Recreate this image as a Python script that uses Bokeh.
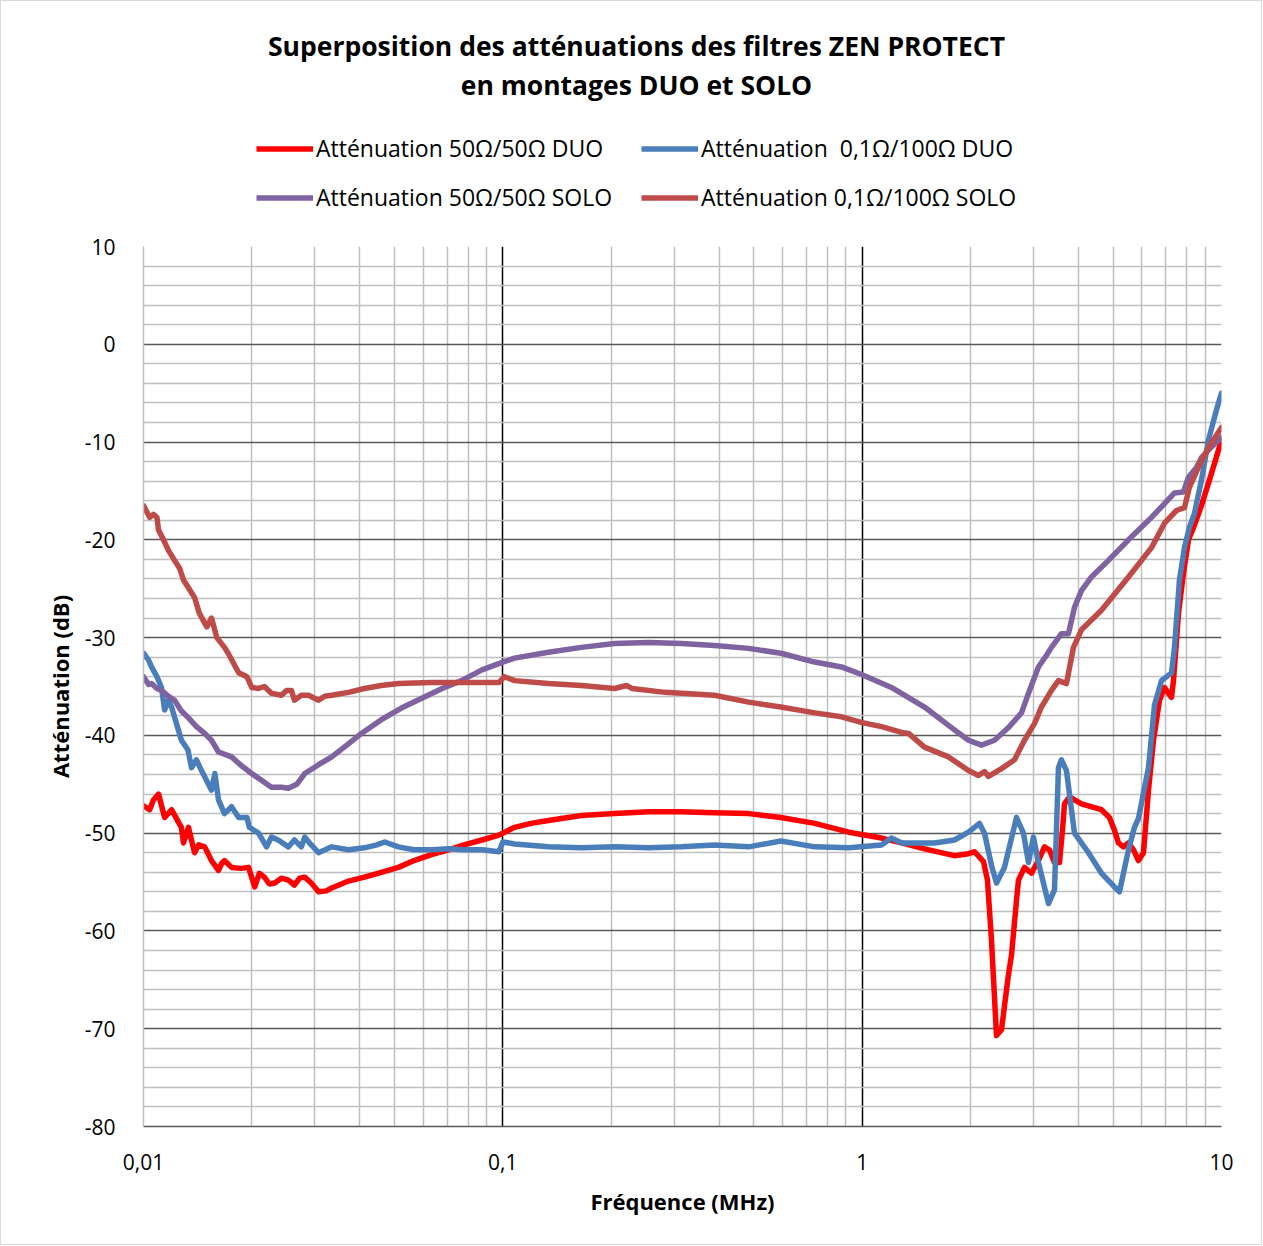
from bokeh.plotting import figure
from bokeh.layouts import column
from bokeh.models import FixedTicker, Legend, LegendItem, Range1d, Label
from bokeh.embed import file_html
from bokeh.resources import INLINE

# ---------------- data (frequency in MHz, attenuation in dB) ----------------
freq_duo_50 = [0.0100, 0.01040, 0.01066, 0.01101, 0.01145, 0.01197, 0.01252, 0.01275, 0.01292, 0.01334,
               0.01387, 0.01423, 0.0148, 0.01546, 0.01617, 0.01650, 0.0168, 0.01758, 0.01874, 0.0196,
               0.0204, 0.0210, 0.0217, 0.0224, 0.0232, 0.0242, 0.0253, 0.0263, 0.0272, 0.0281,
               0.0293, 0.0307, 0.0323, 0.0334, 0.0372, 0.0412, 0.0459, 0.0512, 0.0566, 0.0633,
               0.0706, 0.0780, 0.0875, 0.0975, 0.1078, 0.1197, 0.1339, 0.1654, 0.2045, 0.255,
               0.314, 0.388, 0.483, 0.594, 0.738, 0.918, 1.132, 1.287, 1.491, 1.806,
               1.976, 2.053, 2.176, 2.232, 2.290, 2.365, 2.442, 2.553, 2.603, 2.688,
               2.723, 2.829, 2.959, 3.094, 3.216, 3.32, 3.429, 3.541, 3.609, 3.656,
               3.775, 4.077, 4.634, 4.877, 5.036, 5.167, 5.336, 5.510, 5.689, 5.874,
               6.066, 6.264, 6.468, 6.722, 6.940, 7.120, 7.259, 7.352, 7.494, 7.590,
               7.837, 8.092, 8.409, 8.795, 9.378, 10.0]
att_duo_50 = [-47.2, -47.6, -46.6, -46.0, -48.4, -47.6, -48.9, -49.4, -51.0, -49.4,
              -52.0, -51.2, -51.4, -52.8, -53.8, -53.1, -52.8, -53.5, -53.6, -53.5,
              -55.5, -54.1, -54.5, -55.2, -55.1, -54.6, -54.8, -55.3, -54.6, -54.5,
              -55.1, -56.0, -55.9, -55.6, -54.9, -54.5, -54.0, -53.5, -52.8, -52.2,
              -51.7, -51.2, -50.7, -50.2, -49.4, -49.0, -48.7, -48.2, -48.0, -47.8,
              -47.8, -47.9, -48.0, -48.4, -49.0, -49.9, -50.5, -51.0, -51.6, -52.3,
              -52.1, -51.9, -52.9, -54.8, -60.9, -70.7, -70.1, -64.5, -62.5, -56.9,
              -54.8, -53.5, -54.1, -52.8, -51.4, -51.7, -53.0, -53.0, -49.7, -47.0,
              -46.3, -47.0, -47.6, -48.4, -49.7, -51.0, -51.4, -51.0, -51.7, -52.8,
              -52.0, -45.6, -40.5, -36.4, -35.1, -35.7, -36.1, -34.4, -30.3, -27.5,
              -23.4, -20.0, -18.5, -16.5, -13.2, -9.8]

freq_duo_01 = [0.0100, 0.01033, 0.01053, 0.0109, 0.01122, 0.01145, 0.01174, 0.01197, 0.0124, 0.01275,
               0.0133, 0.0136, 0.01404, 0.0145, 0.01546, 0.0158, 0.01617, 0.0168, 0.01758, 0.0184,
               0.0194, 0.0197, 0.0209, 0.0220, 0.0227, 0.0237, 0.0253, 0.0263, 0.0275, 0.0281,
               0.0293, 0.0307, 0.0334, 0.0372, 0.0412, 0.0446, 0.0469, 0.0512, 0.0566, 0.0633,
               0.0706, 0.0780, 0.0875, 0.0975, 0.1, 0.1078, 0.1339, 0.1654, 0.2045, 0.255,
               0.314, 0.388, 0.483, 0.594, 0.738, 0.918, 1.132, 1.206, 1.287, 1.590,
               1.806, 1.976, 2.121, 2.190, 2.290, 2.365, 2.489, 2.688, 2.811, 2.903,
               2.997, 3.094, 3.300, 3.429, 3.518, 3.586, 3.703, 3.898, 4.264, 4.634,
               5.036, 5.200, 5.510, 5.726, 5.874, 6.264, 6.510, 6.808, 7.259, 7.399,
               7.638, 7.887, 8.144, 8.409, 8.795, 9.198, 9.683, 10.0]
att_duo_01 = [-31.6, -32.3, -33.0, -34.0, -35.1, -37.4, -36.4, -37.1, -39.0, -40.5,
              -41.5, -43.3, -42.5, -43.6, -45.6, -43.9, -46.6, -48.0, -47.3, -48.4,
              -48.4, -49.4, -50.0, -51.4, -50.4, -50.7, -51.4, -50.7, -51.4, -50.4,
              -51.2, -52.0, -51.4, -51.7, -51.5, -51.2, -50.9, -51.4, -51.7, -51.7,
              -51.6, -51.7, -51.7, -51.9, -50.9, -51.1, -51.4, -51.5, -51.4, -51.5,
              -51.4, -51.2, -51.4, -50.8, -51.4, -51.5, -51.2, -50.5, -51.0, -51.0,
              -50.7, -49.9, -49.0, -50.0, -53.3, -55.1, -53.5, -48.4, -50.0, -53.0,
              -50.4, -53.0, -57.2, -55.8, -43.3, -42.5, -43.6, -50.0, -52.0, -54.1,
              -55.5, -56.0, -51.7, -49.4, -48.5, -43.3, -36.9, -34.4, -33.6, -31.0,
              -24.1, -20.8, -18.7, -17.3, -13.9, -9.8, -6.7, -5.0]

freq_solo_50 = [0.0100, 0.01033, 0.01053, 0.0109, 0.01122, 0.01174, 0.0122, 0.01275, 0.01334, 0.01404,
                0.0148, 0.01546, 0.01617, 0.01758, 0.01874, 0.0200, 0.0213, 0.0227, 0.0242, 0.0253,
                0.0267, 0.0281, 0.0307, 0.0334, 0.0368, 0.0404, 0.0459, 0.0522, 0.0595, 0.0678,
                0.0767, 0.0875, 0.1, 0.1078, 0.1339, 0.1654, 0.2045, 0.255, 0.314, 0.388,
                0.483, 0.594, 0.738, 0.876, 1.0, 1.206, 1.491, 1.772, 1.976, 2.148,
                2.335, 2.553, 2.775, 2.903, 3.094, 3.258, 3.364, 3.586, 3.751, 3.898,
                4.077, 4.347, 4.846, 5.510, 6.386, 6.940, 7.399, 7.837, 8.092, 8.52,
                8.795, 9.378, 10.0]
att_solo_50 = [-34.0, -34.8, -34.7, -35.2, -35.4, -36.0, -36.4, -37.5, -38.2, -39.1,
               -39.8, -40.5, -41.7, -42.2, -43.1, -43.9, -44.6, -45.3, -45.3, -45.4,
               -45.0, -43.9, -43.0, -42.2, -41.0, -39.8, -38.4, -37.2, -36.2, -35.2,
               -34.4, -33.3, -32.5, -32.1, -31.5, -31.0, -30.6, -30.5, -30.6, -30.8,
               -31.1, -31.6, -32.5, -33.0, -33.8, -35.1, -37.1, -39.2, -40.5, -41.0,
               -40.5, -39.2, -37.7, -35.7, -33.0, -31.8, -31.0, -29.6, -29.6, -26.9,
               -25.2, -23.8, -22.1, -20.0, -17.7, -16.3, -15.2, -15.1, -13.6, -12.6,
               -11.6, -10.5, -9.5]

freq_solo_01 = [0.0100, 0.01040, 0.01066, 0.0109, 0.01101, 0.01137, 0.01174, 0.0122, 0.0126, 0.01292,
                0.01387, 0.0143, 0.0150, 0.01546, 0.0160, 0.0168, 0.0172, 0.0184, 0.0194, 0.0200,
                0.0209, 0.0217, 0.0227, 0.0242, 0.0250, 0.0258, 0.0263, 0.0275, 0.0288, 0.0307,
                0.0319, 0.0334, 0.0372, 0.0412, 0.0459, 0.0512, 0.0633, 0.0780, 0.0975, 0.101,
                0.1078, 0.1339, 0.1654, 0.2045, 0.2213, 0.2286, 0.2826, 0.388, 0.483, 0.594,
                0.738, 0.876, 1.0, 1.132, 1.287, 1.346, 1.491, 1.739, 1.976, 2.107,
                2.190, 2.246, 2.442, 2.654, 2.829, 3.016, 3.155, 3.364, 3.518, 3.703,
                3.873, 4.077, 4.634, 5.510, 6.386, 6.940, 7.494, 7.887, 8.144, 8.795,
                9.378, 10.0]
att_solo_01 = [-16.5, -17.7, -17.4, -17.7, -19.0, -20.0, -21.1, -22.1, -22.9, -24.1,
               -25.9, -27.5, -28.9, -28.0, -30.0, -31.0, -31.6, -33.6, -34.0, -35.1,
               -35.2, -35.0, -35.7, -35.9, -35.4, -35.4, -36.4, -35.9, -35.9, -36.4,
               -36.0, -35.9, -35.6, -35.2, -34.9, -34.7, -34.6, -34.6, -34.6, -34.0,
               -34.4, -34.7, -34.9, -35.2, -34.9, -35.2, -35.6, -35.9, -36.6, -37.1,
               -37.7, -38.1, -38.7, -39.1, -39.7, -39.8, -41.2, -42.2, -43.6, -44.1,
               -43.7, -44.2, -43.4, -42.5, -40.5, -38.8, -37.1, -35.4, -34.4, -34.7,
               -31.0, -29.2, -27.2, -23.8, -20.8, -18.3, -17.0, -16.7, -14.6, -11.9,
               -10.1, -8.5]

labels = ["Atténuation 50Ω/50Ω DUO", "Atténuation  0,1Ω/100Ω DUO",
          "Atténuation 50Ω/50Ω SOLO", "Atténuation 0,1Ω/100Ω SOLO"]
colors = ["#ff0000", "#4a7ebb", "#7f62a0", "#be4b48"]
title_lines = ["Superposition des atténuations des filtres ZEN PROTECT", "en montages DUO et SOLO"]

x_ticks = [0.01, 0.1, 1, 10]
x_tick_labels = {0.01: "0,01", 0.1: "0,1", 1: "1", 10: "10"}
x_minor = [m * d for d in (0.01, 0.1, 1) for m in range(2, 10)]
y_ticks = list(range(-80, 11, 10))
y_tick_labels = {v: str(v) for v in y_ticks}
y_minor = [v for v in range(-80, 11, 2) if v % 10 != 0]

FONT = "Open Sans"
LEFT, FW, RIGHT = 142, 1078, 40
HEAD_H = 220

# ---------------- header: title + legend (same frame columns as the chart) ----------------
head = figure(frame_width=FW, frame_height=HEAD_H,
              min_border_left=LEFT, min_border_right=RIGHT, min_border_top=0, min_border_bottom=0,
              x_range=Range1d(LEFT, LEFT + FW), y_range=Range1d(HEAD_H, 0),
              x_axis_location=None, y_axis_location=None,
              output_backend="svg", toolbar_location=None, outline_line_color=None,
              background_fill_color="white", border_fill_color="white")
head.xgrid.visible = False
head.ygrid.visible = False
head.title.visible = False

for i, t in enumerate(title_lines):
    head.add_layout(Label(x=635, y=44 + 39 * i, text=t, text_align="center", text_baseline="middle",
                          text_font=FONT, text_font_style="bold", text_font_size="26.5px",
                          text_color="#000000"))

# legend swatches (single point each, only used for the legend glyphs)
swatches = [head.line([0], [0], line_color=c, line_width=5.5) for c in colors]

def make_legend(idx, x):
    return Legend(items=[LegendItem(label=labels[i], renderers=[swatches[i]]) for i in idx],
                  location=(x, 8), orientation="vertical",
                  glyph_width=57, glyph_height=31, label_height=31, spacing=17,
                  label_standoff=3, padding=0, margin=0,
                  border_line_color=None, background_fill_alpha=0,
                  label_text_font=FONT, label_text_font_size="23px", label_text_color="#000000")

# positions are relative to the header frame, whose left edge is at LEFT
head.add_layout(make_legend([0, 2], 255 - LEFT), "center")
head.add_layout(make_legend([1, 3], 640 - LEFT), "center")

# ---------------- main chart ----------------
p = figure(x_axis_type="log", x_range=Range1d(0.01, 10), y_range=Range1d(-80, 10),
           frame_width=FW, frame_height=880,
           min_border_left=LEFT, min_border_right=RIGHT, min_border_top=25, min_border_bottom=118,
           output_backend="svg", toolbar_location=None, background_fill_color="white",
           border_fill_color="white", outline_line_color=None)
p.title.visible = False

# grids
p.xgrid.ticker = FixedTicker(ticks=[0.1, 1, 10], minor_ticks=x_minor)
p.xgrid.grid_line_color = "#000000"
p.xgrid.grid_line_width = 1.5
p.xgrid.minor_grid_line_color = "#bfbfbf"
p.xgrid.minor_grid_line_width = 1.5
p.ygrid.ticker = FixedTicker(ticks=y_ticks, minor_ticks=y_minor)
p.ygrid.grid_line_color = "#595959"
p.ygrid.grid_line_width = 1.5
p.ygrid.minor_grid_line_color = "#bfbfbf"
p.ygrid.minor_grid_line_width = 1.5

# axes
p.xaxis.ticker = FixedTicker(ticks=x_ticks)
p.xaxis.major_label_overrides = x_tick_labels
p.yaxis.ticker = FixedTicker(ticks=y_ticks)
p.yaxis.major_label_overrides = y_tick_labels
for ax in (p.xaxis[0], p.yaxis[0]):
    ax.major_tick_line_color = None
    ax.minor_tick_line_color = None
    ax.major_label_text_font = FONT
    ax.major_label_text_font_size = "21px"
    ax.major_label_text_color = "#000000"
    ax.axis_label_text_font = FONT
    ax.axis_label_text_font_style = "bold"
    ax.axis_label_text_font_size = "22px"
    ax.axis_label_text_color = "#000000"
p.xaxis.axis_line_color = "#595959"
p.xaxis.axis_line_width = 1.5
p.yaxis.axis_line_color = "#bfbfbf"
p.yaxis.axis_line_width = 1.5
p.xaxis.major_label_standoff = 21
p.yaxis.major_label_standoff = 22
p.xaxis.axis_label = "Fréquence (MHz)"
p.yaxis.axis_label = "Atténuation (dB)"
p.xaxis.axis_label_standoff = 13
p.yaxis.axis_label_standoff = 7

# series (drawn in the original order)
series = [(freq_duo_50, att_duo_50), (freq_duo_01, att_duo_01),
          (freq_solo_50, att_solo_50), (freq_solo_01, att_solo_01)]
for (f, a), c in zip(series, colors):
    p.line(f, a, line_color=c, line_width=5.5, line_join="round", line_cap="round")

layout = column(head, p, spacing=0, styles={"border": "1px solid #d9d9d9"})

open("out.html", "w").write(file_html(layout, INLINE))
